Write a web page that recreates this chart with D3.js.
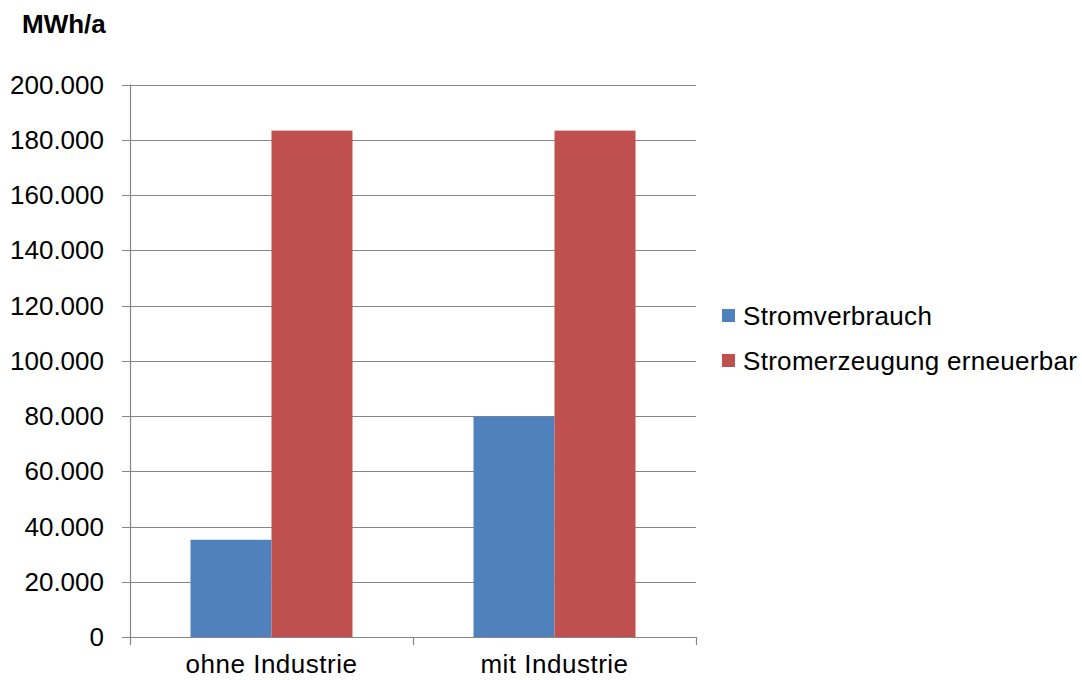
<!DOCTYPE html>
<html>
<head>
<meta charset="utf-8">
<script src="https://cdn.jsdelivr.net/npm/d3@7"></script>
<style>
  html, body { margin: 0; padding: 0; background: #fff; }
  svg { display: block; font-family: "Liberation Sans", Arial, sans-serif; }
</style>
</head>
<body>
<svg id="chart" width="1082" height="680"></svg>
<script>
const categories = ["ohne Industrie", "mit Industrie"];
const seriesNames = ["Stromverbrauch", "Stromerzeugung erneuerbar"];
const stromverbrauch = [35200, 79800];
const stromerzeugung = [183300, 183300];
const yTicks = [0, 20000, 40000, 60000, 80000, 100000, 120000, 140000, 160000, 180000, 200000];
const yTickLabels = ["0", "20.000", "40.000", "60.000", "80.000", "100.000", "120.000", "140.000", "160.000", "180.000", "200.000"];
const colors = ["#4F81BD", "#C0504D"];
const unitLabel = "MWh/a";

(function () {
const svg = d3.select("#chart");
const pLeft = 130, pRight = 696, pTop = 84.5, pBottom = 637;

const x = d3.scaleBand().domain(categories).range([pLeft, pRight]).paddingInner(0).paddingOuter(0);
const xs = d3.scaleBand().domain(seriesNames).range([0, x.bandwidth()]).paddingInner(0).paddingOuter(0.747);
const y = d3.scaleLinear().domain([0, 200000]).range([pBottom, pTop]);

const grid = "#868686";
const fs = 26;

svg.append("g").selectAll("line").data(yTicks).join("line")
  .attr("x1", pLeft - 8).attr("x2", pRight)
  .attr("y1", d => Math.round(y(d)) + 0.5).attr("y2", d => Math.round(y(d)) + 0.5)
  .attr("stroke", grid).attr("stroke-width", 1.2);

svg.append("g").selectAll("text").data(yTicks).join("text")
  .attr("x", 104).attr("y", d => y(d))
  .attr("dy", "0.35em").attr("text-anchor", "end")
  .attr("font-size", fs).attr("fill", "#000")
  .text((d, i) => yTickLabels[i]);

const data = categories.map((c, i) => ({ cat: c, values: [stromverbrauch[i], stromerzeugung[i]] }));
const groups = svg.append("g").selectAll("g").data(data).join("g")
  .attr("transform", d => `translate(${x(d.cat)},0)`);
groups.selectAll("rect").data(d => d.values.map((v, j) => ({ v, s: seriesNames[j], j })))
  .join("rect")
  .attr("x", d => xs(d.s)).attr("width", xs.bandwidth())
  .attr("y", d => y(d.v)).attr("height", d => pBottom - y(d.v))
  .attr("fill", d => colors[d.j]);

svg.append("line").attr("x1", pLeft + 0.5).attr("x2", pLeft + 0.5)
  .attr("y1", pTop).attr("y2", pBottom).attr("stroke", grid).attr("stroke-width", 1.2);

const xAxisTicks = [pLeft, ...categories.map(c => x(c) + x.bandwidth())];
svg.append("line").attr("x1", pLeft).attr("x2", pRight)
  .attr("y1", Math.round(pBottom) + 0.5).attr("y2", Math.round(pBottom) + 0.5)
  .attr("stroke", grid).attr("stroke-width", 1.2);
svg.append("g").selectAll("line").data(xAxisTicks).join("line")
  .attr("x1", d => d + 0.5).attr("x2", d => d + 0.5)
  .attr("y1", pBottom).attr("y2", pBottom + 8)
  .attr("stroke", grid).attr("stroke-width", 1.2);

svg.append("g").selectAll("text").data(categories).join("text")
  .attr("x", d => x(d) + x.bandwidth() / 2).attr("y", 673)
  .attr("text-anchor", "middle").attr("font-size", fs).attr("letter-spacing", 0.5).attr("fill", "#000")
  .text(d => d);

svg.append("text").attr("x", 22).attr("y", 33)
  .attr("font-size", fs).attr("font-weight", "bold").attr("fill", "#000")
  .text(unitLabel);

const lg = svg.append("g").selectAll("g").data(seriesNames).join("g")
  .attr("transform", (d, i) => `translate(722,${309 + i * 45})`);
lg.append("rect").attr("width", 13).attr("height", 13).attr("fill", (d, i) => colors[i]);
lg.append("text").attr("x", 21).attr("y", 6.5).attr("dy", "0.35em")
  .attr("font-size", fs).attr("letter-spacing", 0.3).attr("fill", "#000").text(d => d);
})();
</script>
</body>
</html>
